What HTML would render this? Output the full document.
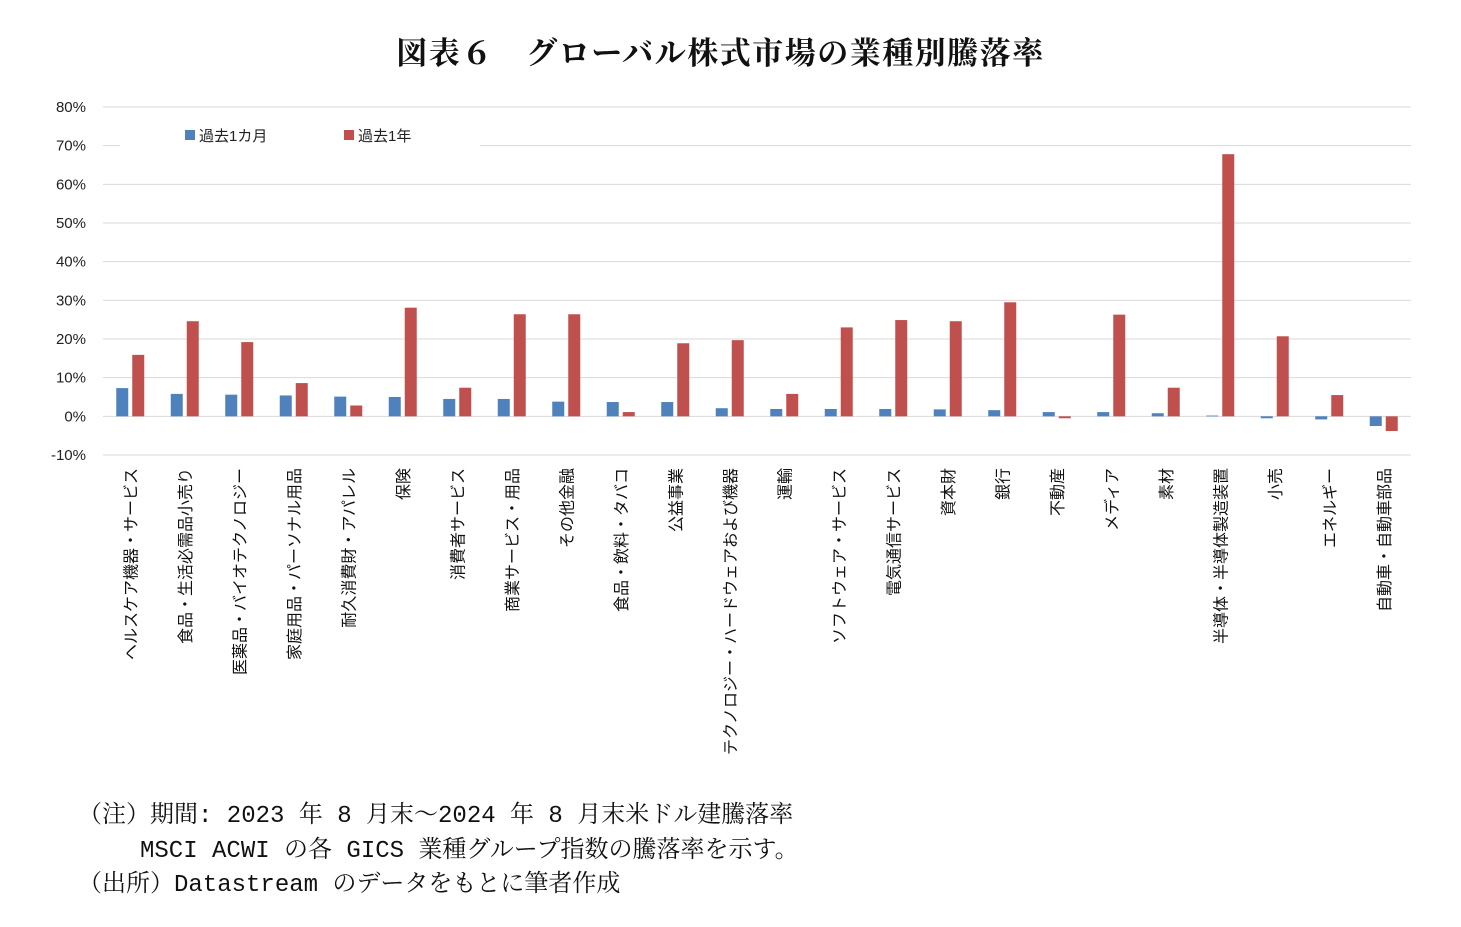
<!DOCTYPE html>
<html><head><meta charset="utf-8"><style>
body{margin:0;background:#fff;width:1461px;height:927px;overflow:hidden;font-family:"Liberation Sans","Noto Sans CJK JP",sans-serif}
#title{position:absolute;left:0;width:1441px;top:28px;text-align:center;font-family:"Liberation Serif","Noto Serif CJK SC",serif;font-weight:bold;font-size:31px;letter-spacing:1.5px;color:#111}
.note{position:absolute;font-family:"Liberation Mono","Noto Serif CJK SC",monospace;font-size:24px;color:#111;white-space:nowrap}
</style></head><body>
<div id="title">図表６　グローバル株式市場の業種別騰落率</div>
<svg id="chart" width="1461" height="780" style="position:absolute;left:0;top:0"></svg>
<div class="note" style="left:78px;top:794px">（注）期間: 2023 年 8 月末～2024 年 8 月末米ドル建騰落率</div>
<div class="note" style="left:140px;top:829px">MSCI ACWI の各 GICS 業種グループ指数の騰落率を示す。</div>
<div class="note" style="left:78px;top:863px">（出所）Datastream のデータをもとに筆者作成</div>
<script>
const categories=["ヘルスケア機器・サービス","食品・生活必需品小売り","医薬品・バイオテクノロジー","家庭用品・パーソナル用品","耐久消費財・アパレル","保険","消費者サービス","商業サービス・用品","その他金融","食品・飲料・タバコ","公益事業","テクノロジー・ハードウェアおよび機器","運輸","ソフトウェア・サービス","電気通信サービス","資本財","銀行","不動産","メディア","素材","半導体・半導体製造装置","小売","エネルギー","自動車・自動車部品"];
const month1=[7.3,5.8,5.6,5.4,5.1,5.0,4.5,4.5,3.8,3.7,3.7,2.1,1.9,1.9,1.9,1.8,1.6,1.1,1.1,0.8,0.2,-0.5,-0.8,-2.5];
const year1=[15.9,24.6,19.2,8.6,2.8,28.1,7.4,26.4,26.4,1.1,18.9,19.7,5.8,23.0,24.9,24.6,29.5,-0.5,26.3,7.4,67.8,20.7,5.5,-3.8];
const ticks=[80,70,60,50,40,30,20,10,0,-10];
const svg=document.getElementById('chart');const NS='http://www.w3.org/2000/svg';
const x0=103,x1=1411,yTop=107,yBot=455,vMax=80,vMin=-10;
const y=v=>yTop+(vMax-v)/(vMax-vMin)*(yBot-yTop);
const bw=(x1-x0)/categories.length;
function mk(t,a){const e=document.createElementNS(NS,t);for(const k in a)e.setAttribute(k,a[k]);svg.appendChild(e);return e;}
ticks.forEach(t=>{
 const l=mk('line',{x1:x0,x2:x1,y1:y(t),y2:y(t),stroke:'#d9d9d9','stroke-width':1});
 
 
 const tx=mk('text',{x:86,y:y(t)+5,'text-anchor':'end','font-size':15,fill:'#222'});
 tx.textContent=t+'%';
 
 
});
const lg=mk('rect',{x:120,y:118,width:360,height:30,fill:'#fff'});


[[185,'#4f81bd','過去1カ月'],[344,'#c0504d','過去1年']].forEach(([lx,c,s])=>{
 const r=mk('rect',{x:lx,y:130,width:10,height:10,fill:c});
 
 
 const t=mk('text',{x:lx+14,y:141,'font-size':15,fill:'#222'});t.textContent=s;
 
 
});
categories.forEach((c,i)=>{
 const cx=x0+bw*(i+0.5);
 [[month1[i],'#4f81bd',-14],[year1[i],'#c0504d',2]].forEach(([v,col,off],k)=>{
  const top=Math.min(y(v),y(0)),h=Math.max(Math.abs(y(v)-y(0)),0.8);
  const r=mk('rect',{x:cx+off,y:top,width:12,height:h,fill:col});
  
  
 });
 const t=mk('text',{x:0,y:0,'font-size':16,fill:'#111',transform:`translate(${cx+6},468) rotate(-90)`,'text-anchor':'end'});
 t.textContent=c;
 
 
});
</script>
</body></html>
